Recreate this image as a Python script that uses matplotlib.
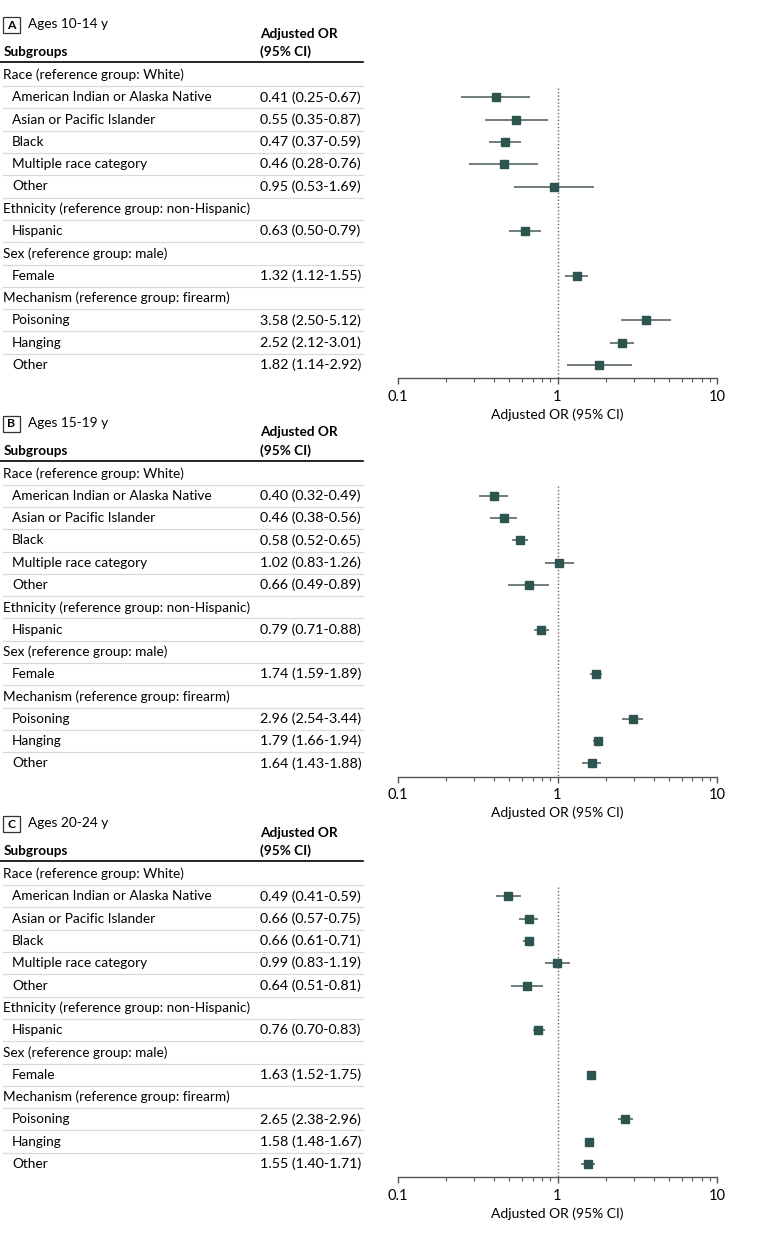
import matplotlib
matplotlib.use("Agg")
import matplotlib.pyplot as plt
from matplotlib.transforms import blended_transform_factory
from matplotlib.patches import Rectangle
from matplotlib.ticker import NullFormatter

plt.rcParams['font.family'] = ['Lato', 'DejaVu Sans']

# rows of the table (same in each panel)
row_labels = ["Race (reference group: White)",
              "American Indian or Alaska Native",
              "Asian or Pacific Islander",
              "Black",
              "Multiple race category",
              "Other",
              "Ethnicity (reference group: non-Hispanic)",
              "Hispanic",
              "Sex (reference group: male)",
              "Female",
              "Mechanism (reference group: firearm)",
              "Poisoning",
              "Hanging",
              "Other"]
is_header = [True, False, False, False, False, False,
             True, False, True, False, True, False, False, False]

panel_letters = ["A", "B", "C"]
panel_titles = ["Ages 10-14 y", "Ages 15-19 y", "Ages 20-24 y"]

# adjusted OR, lower and upper 95% CI (non-header rows only)
or_a = [0.41, 0.55, 0.47, 0.46, 0.95, 0.63, 1.32, 3.58, 2.52, 1.82]
lo_a = [0.25, 0.35, 0.37, 0.28, 0.53, 0.50, 1.12, 2.50, 2.12, 1.14]
hi_a = [0.67, 0.87, 0.59, 0.76, 1.69, 0.79, 1.55, 5.12, 3.01, 2.92]

or_b = [0.40, 0.46, 0.58, 1.02, 0.66, 0.79, 1.74, 2.96, 1.79, 1.64]
lo_b = [0.32, 0.38, 0.52, 0.83, 0.49, 0.71, 1.59, 2.54, 1.66, 1.43]
hi_b = [0.49, 0.56, 0.65, 1.26, 0.89, 0.88, 1.89, 3.44, 1.94, 1.88]

or_c = [0.49, 0.66, 0.66, 0.99, 0.64, 0.76, 1.63, 2.65, 1.58, 1.55]
lo_c = [0.41, 0.57, 0.61, 0.83, 0.51, 0.70, 1.52, 2.38, 1.48, 1.40]
hi_c = [0.59, 0.75, 0.71, 1.19, 0.81, 0.83, 1.75, 2.96, 1.67, 1.71]

panels = [(or_a, lo_a, hi_a), (or_b, lo_b, hi_b), (or_c, lo_c, hi_c)]

W, H = 783, 1245
fig = plt.figure(figsize=(W / 100, H / 100), dpi=100)

FS = 9.8       # row labels
FS_NUM = 10.3  # OR column
mark_col = '#2d5550'
line_col = '#555555'
row0 = 75       # px of first row in panel A
step = 22.3     # px between rows
axis_px = 378   # px of the x axis in panel A
offsets = [0, 398.5, 799]

y_bottom = (axis_px - row0) / step
y_top = -0.5

for p in range(3):
    off = offsets[p]
    top_px = row0 + y_top * step + off
    bot_px = axis_px + off
    ax = fig.add_axes([398 / W, 1 - bot_px / H, (717 - 398) / W, (bot_px - top_px) / H])
    ax.set_xscale('log')
    ax.set_xlim(0.1, 10)
    ax.set_ylim(y_bottom, y_top)
    for s in ['top', 'right', 'left']:
        ax.spines[s].set_visible(False)
    ax.spines['bottom'].set_color(line_col)
    ax.spines['bottom'].set_linewidth(1)
    ax.set_yticks([])
    ax.set_xticks([0.1, 1, 10])
    ax.set_xticklabels(['0.1', '1', '10'], fontsize=10.5)
    ax.xaxis.set_minor_formatter(NullFormatter())
    ax.tick_params(axis='x', which='major', length=4.5, width=1, color=line_col, pad=4)
    ax.tick_params(axis='x', which='minor', length=2.8, width=0.8, color=line_col)
    ax.set_xlabel('Adjusted OR (95% CI)', fontsize=10, labelpad=3)

    ax.vlines(1, 0.58, y_bottom, colors='#666666', linestyles=(0, (1, 1.5)), lw=1)

    orv, lov, hiv = panels[p]
    ys = [i for i in range(len(row_labels)) if not is_header[i]]
    ax.hlines(ys, lov, hiv, colors='#4a5a57', lw=1.1)
    ax.plot(orv, ys, 's', color=mark_col, ms=5.8, mec=mark_col)

    tr = blended_transform_factory(fig.transFigure, ax.transData)

    # table rows
    k = 0
    for i, lab in enumerate(row_labels):
        x = 3 if is_header[i] else 12
        ax.text(x / W, i, lab, transform=tr, fontsize=FS, va='center', ha='left', clip_on=False)
        if not is_header[i]:
            ax.text(260 / W, i, '%.2f (%.2f-%.2f)' % (orv[k], lov[k], hiv[k]),
                    transform=tr, fontsize=FS_NUM, va='center', ha='left', clip_on=False)
            k += 1
        if i < len(row_labels) - 1:
            ax.plot([3 / W, 363 / W], [i + 0.5, i + 0.5], transform=tr, color='#d9d9d9',
                    lw=0.9, clip_on=False)

    # header
    ax.plot([0, 363 / W], [-0.58, -0.58], transform=tr, color='black', lw=1.2, clip_on=False)
    ax.text(4 / W, -1.03, 'Subgroups', transform=tr, fontsize=FS, fontweight='bold',
            va='center', ha='left', clip_on=False)
    ax.text(260 / W, -1.84, 'Adjusted OR', transform=tr, fontsize=FS, fontweight='bold',
            va='center', ha='left', clip_on=False)
    ax.text(260 / W, -1.03, '(95% CI)', transform=tr, fontsize=FS, fontweight='bold',
            va='center', ha='left', clip_on=False)

    # panel letter box and title
    ax.add_patch(Rectangle((3 / W, -2.6), 17 / W, 0.72, transform=tr, fill=False,
                           ec='#333333', lw=0.9, clip_on=False))
    ax.text(11.5 / W, -2.24, panel_letters[p], transform=tr, fontsize=FS - 1,
            fontweight='bold', va='center', ha='center', clip_on=False)
    ax.text(28 / W, -2.28, panel_titles[p], transform=tr, fontsize=FS,
            va='center', ha='left', clip_on=False)

fig.savefig('out.png', dpi=100)
